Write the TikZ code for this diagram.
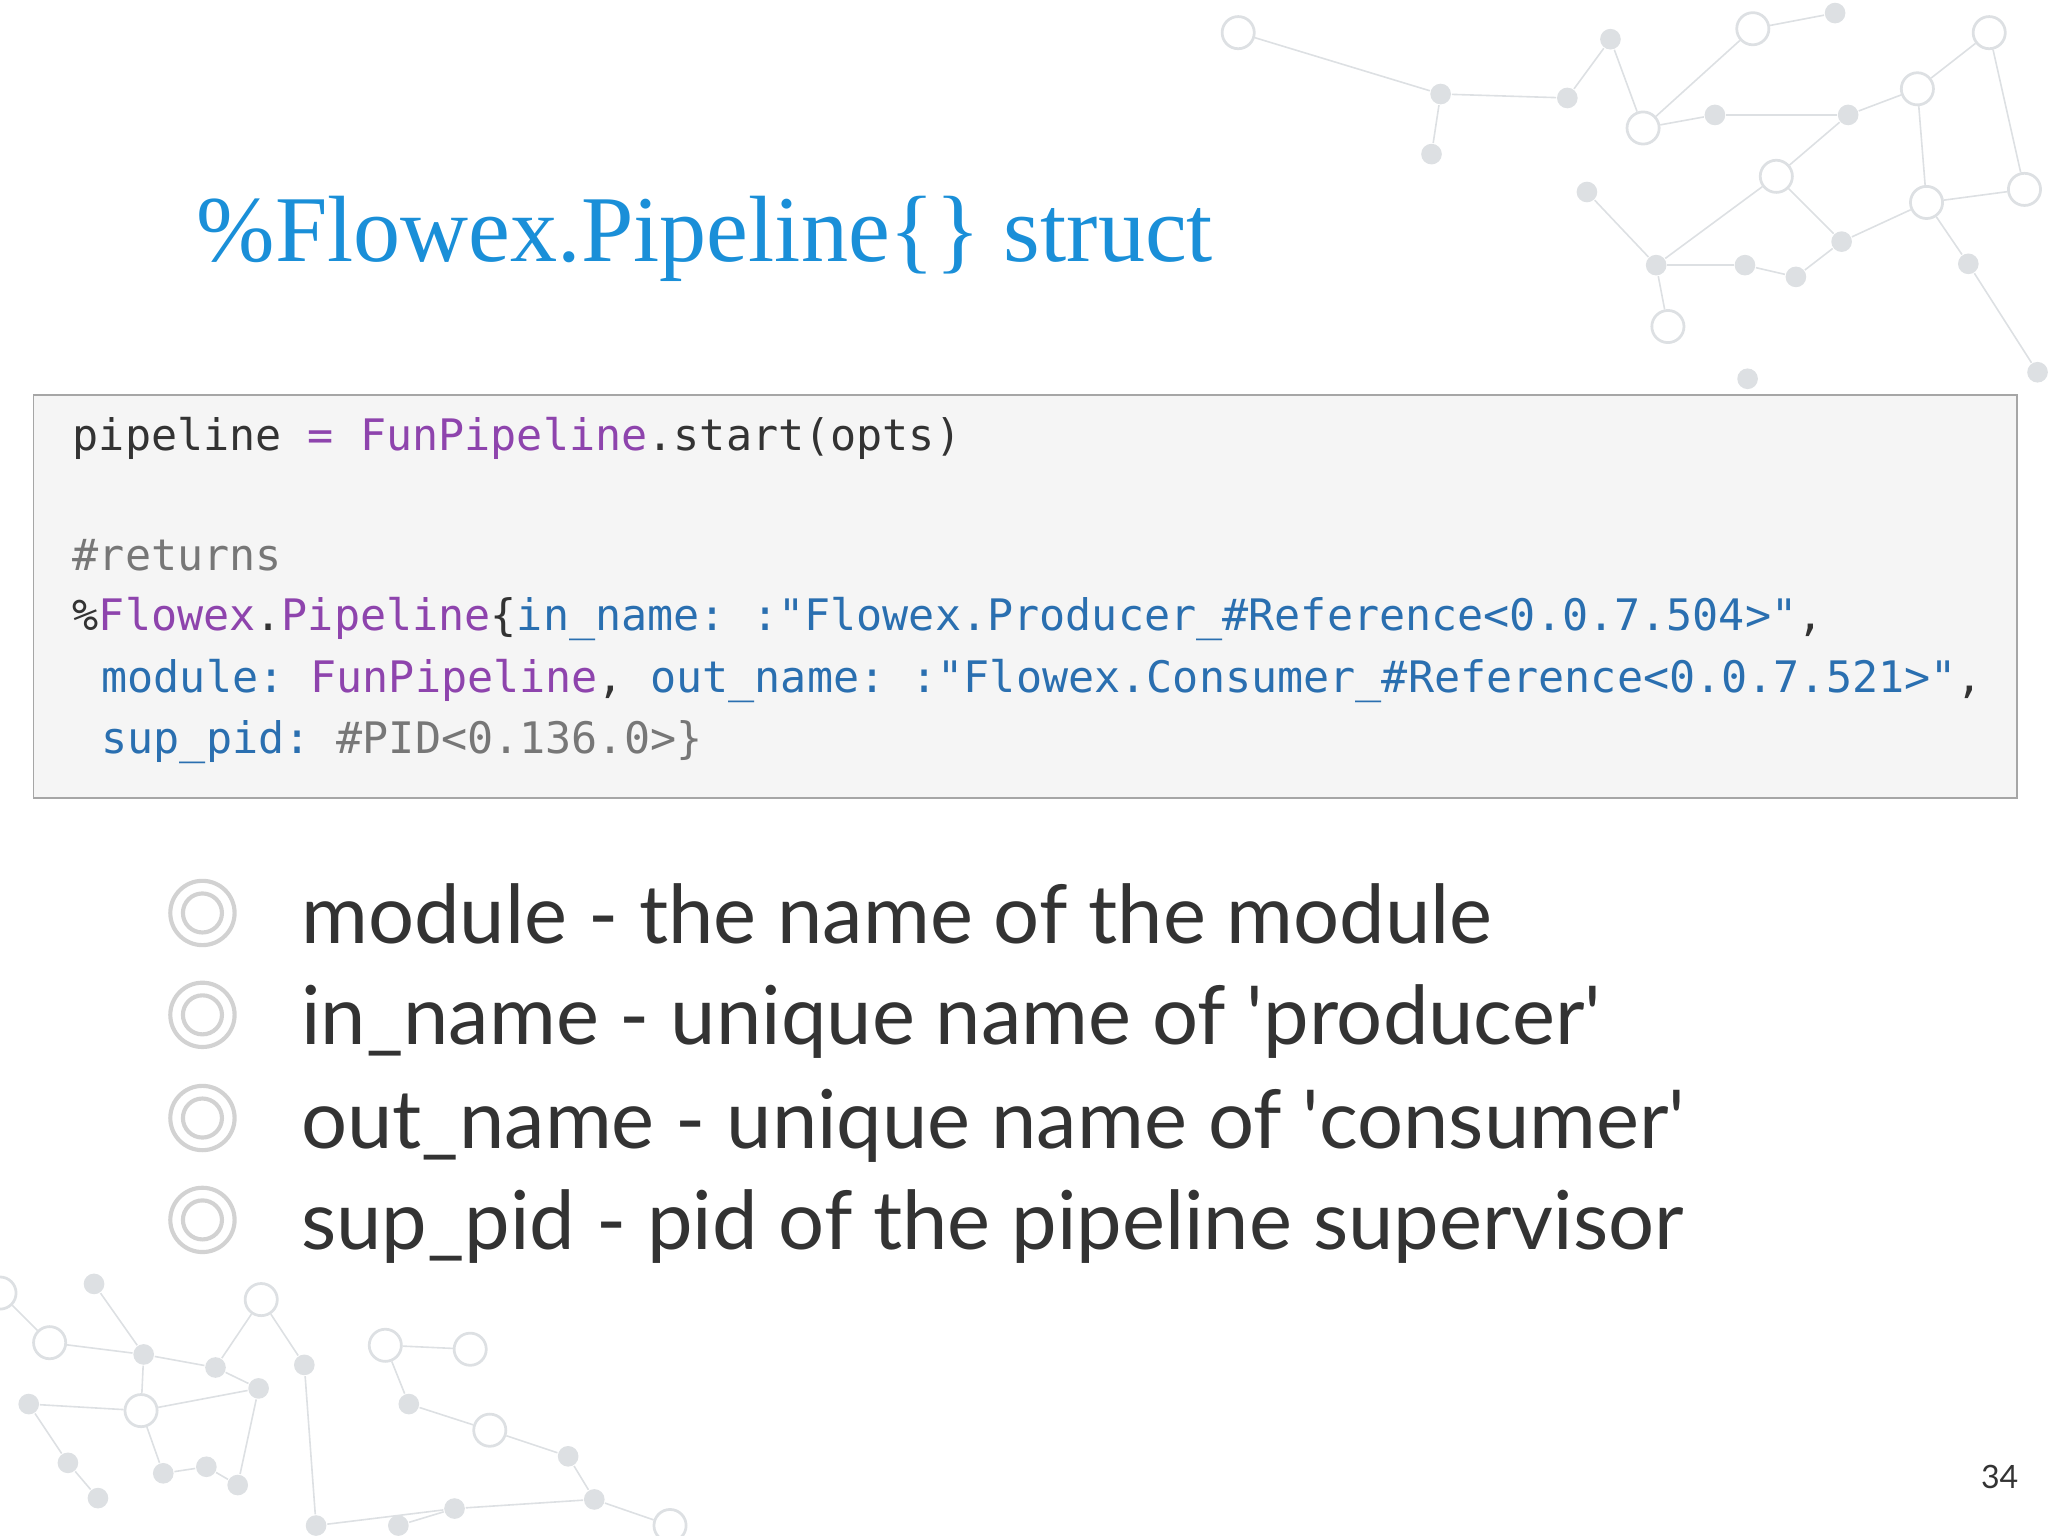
\documentclass[tikz,border=0pt]{standalone}
\usepackage{fontspec}
\setmainfont{Lato}
\setmonofont{DejaVu Sans Mono}
\newfontfamily\titlefont{Liberation Serif}
\definecolor{ttl}{HTML}{1A8FD8}
\definecolor{dk}{HTML}{333333}
\definecolor{pu}{HTML}{8E44AD}
\definecolor{bl}{HTML}{2A6FB0}
\definecolor{gr}{HTML}{777777}
\definecolor{net}{HTML}{DDE0E3}
\begin{document}
\begin{tikzpicture}[x=0.01cm,y=-0.01cm,
  dot/.style={circle,fill=net,inner sep=0,minimum size=4.5pt},
  ring/.style={circle,draw=net,line width=0.6pt,inner sep=0,minimum size=7pt},
  ln/.style={draw=net,line width=0.35pt},
  codeline/.style={anchor=base west,inner sep=0,font=\ttfamily\fontsize{9.45}{11}\selectfont,text=dk},
  item/.style={anchor=base west,inner sep=0,font=\fontsize{17.7}{21}\selectfont,text=dk},
  bul/.style={circle,draw=gray!35,line width=0.9pt,inner sep=0,minimum size=14pt}]
\useasboundingbox (0,0) rectangle (1568,1176);
% background network top-right
\foreach \n/\x/\y/\s in {a/948/25/ring,b/1103/72/dot,c/1200/75/dot,d/1096/118/dot,e/1233/30/dot,f/1258/98/ring,g/1313/88/dot,h/1342/22/ring,i/1405/10/dot,j/1415/88/dot,k/1468/68/ring,l/1523/25/ring,m/1475/155/ring,n/1360/135/ring,o/1410/185/dot,p/1375/212/dot,q/1336/203/dot,r/1268/203/dot,s/1277/250/ring,t/1507/202/dot,u/1215/147/dot,v/1550/145/ring,w/1560/285/dot,x/1338/290/dot}
  \node[\s] (\n) at (\x,\y) {};
\foreach \p/\q in {a/b,b/c,b/d,c/e,e/f,f/h,f/g,h/i,g/j,j/k,k/l,k/m,m/t,l/v,n/o,o/p,p/q,q/r,r/s,n/r,u/r,t/w,m/v,j/n,o/m}
  \draw[ln] (\p) -- (\q);
% background network bottom-left
\foreach \n/\x/\y/\s in {A/0/990/ring,B/38/1028/ring,C/72/983/dot,D/110/1037/dot,E/108/1080/ring,F/22/1075/dot,G/165/1047/dot,H/200/995/ring,I/233/1045/dot,J/198/1063/dot,K/295/1030/ring,L/360/1033/ring,M/313/1075/dot,N/375/1095/ring,O/435/1115/dot,P/455/1148/dot,Q/348/1155/dot,R/125/1128/dot,S/158/1123/dot,T/182/1137/dot,U/75/1147/dot,V/242/1168/dot,W/305/1168/dot,X/513/1168/ring,Y/52/1120/dot}
  \node[\s] (\n) at (\x,\y) {};
\foreach \p/\q in {A/B,B/D,C/D,D/E,E/F,D/G,G/H,H/I,G/J,E/J,K/L,K/M,M/N,N/O,O/P,P/Q,Q/V,R/S,S/T,U/Y,Y/F,E/R,I/V,P/X,W/Q,J/T}
  \draw[ln] (\p) -- (\q);
% title
\node[anchor=base west,inner sep=0,text=ttl,font=\titlefont\fontsize{20.5}{24}\selectfont] (title) at (150,200) {\%Flowex.Pipeline\{\} struct};
% code box
\node[draw=gray!70,fill=gray!8,line width=0.4pt,minimum width=15.18cm,minimum height=3.08cm,anchor=north west,inner sep=0] (box) at (25,302) {};
\node[codeline] (c1) at (55,345) {pipeline \textcolor{pu}{=} \textcolor{pu}{FunPipeline}.start(opts)};
\node[codeline,text=gr] (c2) at (55,437) {\#returns};
\node[codeline] (c3) at (55,483) {\%\textcolor{pu}{Flowex}.\textcolor{pu}{Pipeline}\{\textcolor{bl}{in\_name:} \textcolor{bl}{:"Flowex.Producer\_\#Reference<0.0.7.504>"},};
\node[codeline] (c4) at (77,530) {\textcolor{bl}{module:} \textcolor{pu}{FunPipeline}, \textcolor{bl}{out\_name:} \textcolor{bl}{:"Flowex.Consumer\_\#Reference<0.0.7.521>"},};
\node[codeline] (c5) at (77,577) {\textcolor{bl}{sup\_pid:} \textcolor{gr}{\#PID<0.136.0>\}}};
% bullets
\foreach \i/\y/\t in {1/722/{module - the name of the module},2/800/{in\_name - unique name of \textquotesingle producer\textquotesingle},3/879/{out\_name - unique name of \textquotesingle consumer\textquotesingle},4/957/{sup\_pid - pid of the pipeline supervisor}}{
  \node[bul] (b\i) at (155,\y-23) {};
  \node[circle,draw=gray!35,line width=0.9pt,inner sep=0,minimum size=8.5pt] (bi\i) at (b\i) {};
  \node[item] (t\i) at (230,\y) {\t};
}
\node[anchor=base east,inner sep=0,text=dk,font=\fontsize{7}{9}\selectfont] (pg) at (1546,1140) {34};
\end{tikzpicture}
\end{document}
